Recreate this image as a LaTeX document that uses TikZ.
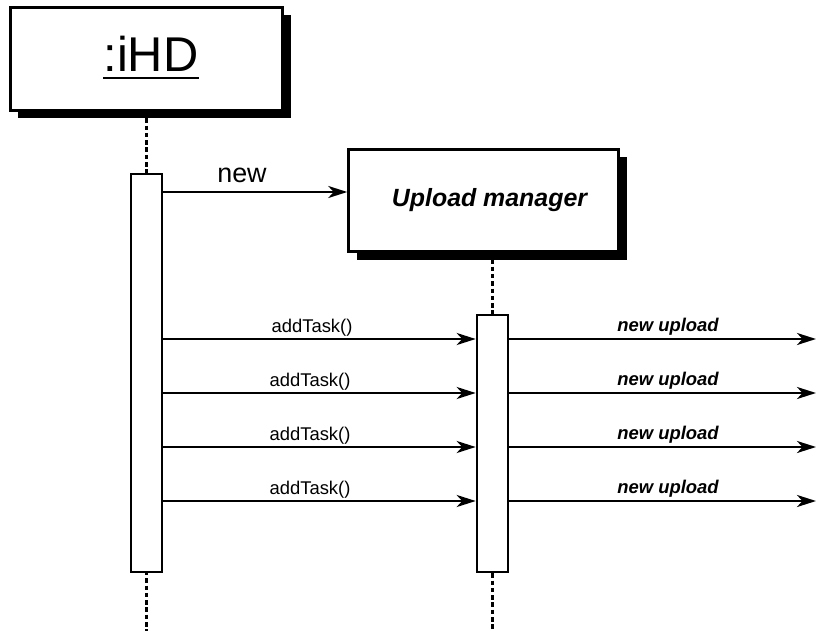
\documentclass[tikz,border=0pt]{standalone}
\usepackage{fontspec}
\setmainfont{Liberation Sans}
\usetikzlibrary{arrows.meta,shadows}
\begin{document}
\begin{tikzpicture}[x=1bp,y=-1bp,
  objbox/.style={draw,line width=2.5bp,fill=white,inner sep=0pt,
    drop shadow={opacity=1,fill=black,shadow xshift=8bp,shadow yshift=-8bp}},
  actbox/.style={draw,line width=2.6bp,fill=white,inner sep=0pt,minimum width=31bp},
  lifeline/.style={line width=2.4bp,dash pattern=on 4.5bp off 2.8bp},
  msg/.style={line width=2.6bp,-{Stealth[length=19bp,width=12bp,inset=5.5bp]}},
  small/.style={inner sep=0pt,anchor=base,font=\fontsize{18.5}{20}\selectfont},
  smallbi/.style={small,font=\fontsize{18.5}{20}\selectfont\bfseries\itshape}]
\useasboundingbox (0,0) rectangle (816,631);
% lifelines (drawn first, behind boxes)
\coordinate (l1top) at (146.5,111);
\coordinate (l1bot) at (146.5,631);
\coordinate (l2top) at (492.5,252);
\coordinate (l2bot) at (492.5,631);
\draw[lifeline] (l1top) -- (l1bot);
\draw[lifeline] (l2top) -- (l2bot);
% object boxes
\node[objbox,minimum width=272bp,minimum height=103bp] (ihd) at (146.5,59) {};
\node[inner sep=0pt,anchor=base,font=\fontsize{49}{52}\selectfont] (ihdlbl) at (151,72) {:iHD};
\draw[line width=2bp] ([yshift=-6bp]ihdlbl.base west) -- ([yshift=-6bp]ihdlbl.base east);
\node[objbox,minimum width=270bp,minimum height=102bp,
  font=\fontsize{25}{28}\selectfont\bfseries\itshape] (um) at (483.5,200.5) {\hspace{12bp}Upload manager};
% activation boxes
\node[actbox,minimum height=398bp] (act1) at (146.5,373) {};
\node[actbox,minimum height=257bp] (act2) at (492.5,443.5) {};
% new
\draw[msg] (act1.east |- 0,192) -- (um.west |- 0,192);
\node[inner sep=0pt,anchor=base,font=\fontsize{27}{30}\selectfont] (newlbl) at (242,183) {new};
% addTask and new upload
\foreach \y/\lx [count=\i] in {339/312,393/310,447/310,501/310}{
  \coordinate (out\i) at (816,\y);
  \draw[msg] (act1.east |- 0,\y) -- (act2.west |- 0,\y);
  \node[small] (task\i) at (\lx,\y-7) {addTask()};
  \draw[msg] (act2.east |- 0,\y) -- (out\i);
  \node[smallbi] (up\i) at (668,\y-8) {new upload};
}
\end{tikzpicture}
\end{document}
